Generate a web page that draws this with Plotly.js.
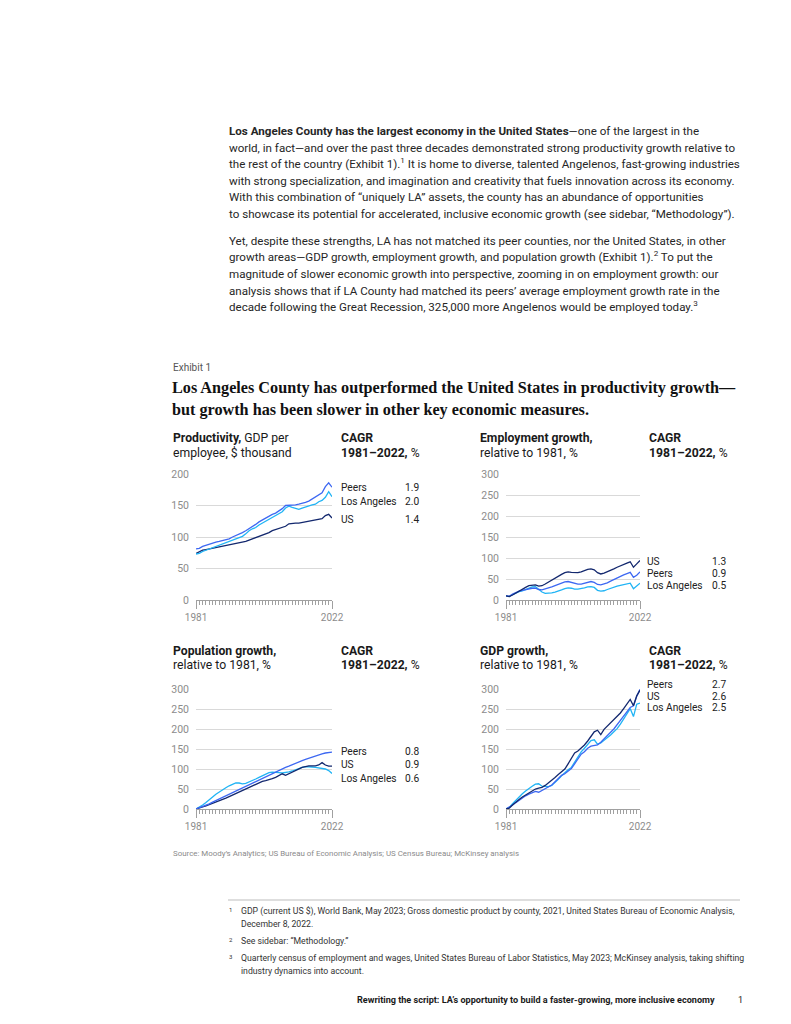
<!DOCTYPE html>
<html><head><meta charset="utf-8">
<script src="https://cdn.plot.ly/plotly-3.0.1.min.js"></script>
<style>html,body{margin:0;padding:0;background:#fff}#chart{width:791px;height:1024px}</style>
</head><body><div id="chart"></div>
<script>
// ---------- DATA ----------
const years = [1981,1982,1983,1984,1985,1986,1987,1988,1989,1990,1991,1992,1993,1994,1995,1996,1997,1998,1999,2000,2001,2002,2003,2004,2005,2006,2007,2008,2009,2010,2011,2012,2013,2014,2015,2016,2017,2018,2019,2020,2021,2022];

// Productivity, GDP per employee, $ thousand
const prodPeers = [81,82,85,87,89,91,92,93,94,96, 97,100,102,104,107,110,113,117,120,124, 127,131,133,136,138,141,145,150,150,150, 151,152,153,155,157,160,163,166,170,180, 186,179];
const prodLA    = [73,74,77,79,81,83,85,86,88,90, 93,95,97,99,101,105,110,113,115,119, 122,125,128,131,134,137,140,146,149,147, 145,144,146,148,150,151,152,156,158,163, 172,164];
const prodUS    = [74,77,79,80,81,83,84,85,85,86, 87,89,90,91,92,93,95,97,99,100, 102,104,107,110,112,114,116,117,121,122, 122,122,123,123,124,125,126,128,129,134, 136,130];

// Employment growth, relative to 1981, %
const empUS    = [10,8,12,17,21,25,30,34,35,36, 33,34,38,43,47,52,57,61,65,67, 66,65,65,67,70,73,74,72,65,62, 64,67,70,74,78,82,85,88,91,78, 86,94];
const empPeers = [10,9,14,18,21,23,25,27,28,28, 25,24,26,28,31,34,37,40,43,44, 42,39,38,38,40,43,44,42,37,36, 38,41,45,49,53,57,60,63,66,54, 59,67];
const empLA    = [10,8,13,17,20,22,25,28,31,32, 25,19,16,16,17,19,21,24,27,29, 28,26,26,27,29,31,32,30,23,21, 22,25,28,30,33,35,37,38,40,27, 33,40];

// Population growth, relative to 1981, %
const popPeers = [0,3,6,9,13,17,21,25,29,33, 37,41,45,48,52,56,60,64,68,72, 76,80,84,88,92,96,100,104,107,111, 114,118,121,124,127,130,133,136,138,140, 141,142];
const popUS    = [0,2,5,8,11,14,17,20,23,27, 31,35,39,43,47,51,55,59,63,67, 69,71,73,76,79,83,88,84,88,93, 97,101,104,106,108,108,108,110,116,110, 107,107];
const popLA    = [0,4,10,16,22,30,37,43,48,53, 58,62,65,65,63,64,67,71,75,79, 83,87,91,92,92,91,90,91,93,95, 98,102,104,106,106,105,104,103,102,100, 96,89];

// GDP growth, relative to 1981, %
const gdpPeers = [0,4,10,16,22,28,33,37,41,44, 42,46,51,55,60,68,76,84,88,95, 101,113,125,137,143,152,157,159,160,167, 176,185,192,200,211,222,234,246,254,258, 282,299];
const gdpUS    = [0,2,10,18,24,30,35,40,45,50, 52,54,59,65,72,79,86,92,100,113, 127,140,145,152,160,170,181,193,197,186, 199,207,214,222,231,240,251,262,274,258, 283,297];
const gdpLA    = [0,4,13,22,30,38,45,52,57,62, 63,57,56,56,59,66,74,83,91,98, 104,117,130,143,152,163,171,173,162,165, 171,178,185,193,201,212,224,237,251,231, 262,265];

// Legend labels and CAGR 1981–2022, %
const prodLabels = ['Peers','Los Angeles','US'];      const prodCagr = ['1.9','2.0','1.4'];
const empLabels  = ['US','Peers','Los Angeles'];      const empCagr  = ['1.3','0.9','0.5'];
const popLabels  = ['Peers','US','Los Angeles'];      const popCagr  = ['0.8','0.9','0.6'];
const gdpLabels  = ['Peers','US','Los Angeles'];      const gdpCagr  = ['2.7','2.6','2.5'];

// ---------- STYLE ----------
const W = 791, H = 1024;
const px = x => x / W, py = y => 1 - y / H;
const SANS = 'Roboto, "Liberation Sans", Arial, sans-serif';
const SERIF = '"Liberation Serif", "Times New Roman", serif';
const C_US = '#13286e', C_PEERS = '#3d68f2', C_LA = '#20b4f5';
const AX = '#a0a0a0', TICKC = '#8c8c8c';

const annotations = [];
function txt(x, y, text, o = {}) {
  const anc = o.anchor || 'left';
  annotations.push({xref:'paper', yref:'paper', x:px(anc === 'left' ? x - 1.5 : x + 1.5), y:py(y), text:text, showarrow:false,
    xanchor:anc, yanchor:'middle', align:anc,
    font:{family:o.family || SANS, size:o.size || 11, color:o.color || '#222'}});
}

// ---------- BODY TEXT ----------
const bodyX = 228, bs = 11.6, bc = '#262626';
const p1 = [
 '<b>Los Angeles County has the largest economy in the United States</b>—one of the largest in the',
 'world, in fact—and over the past three decades demonstrated strong productivity growth relative to',
 'the rest of the country (Exhibit 1).<sup>1</sup> It is home to diverse, talented Angelenos, fast-growing industries',
 'with strong specialization, and imagination and creativity that fuels innovation across its economy.',
 'With this combination of “uniquely LA” assets, the county has an abundance of opportunities',
 'to showcase its potential for accelerated, inclusive economic growth (see sidebar, “Methodology”).'];
const p1y = [131,147.5,162.5,180.5,197,213.5];
p1.forEach((t,i)=>txt(bodyX, p1y[i], t, {size:bs, color:bc}));
const p2 = [
 'Yet, despite these strengths, LA has not matched its peer counties, nor the United States, in other',
 'growth areas—GDP growth, employment growth, and population growth (Exhibit 1).<sup>2</sup> To put the',
 'magnitude of slower economic growth into perspective, zooming in on employment growth: our',
 'analysis shows that if LA County had matched its peers’ average employment growth rate in the',
 'decade following the Great Recession, 325,000 more Angelenos would be employed today.<sup>3</sup>'];
const p2y = [241,256,274,290.5,305.5];
p2.forEach((t,i)=>txt(bodyX, p2y[i], t, {size:bs, color:bc}));

txt(172, 367, 'Exhibit 1', {size:10, color:'#555'});
txt(171, 388, '<b>Los Angeles County has outperformed the United States in productivity growth—</b>', {family:SERIF, size:16.2, color:'#111'});
txt(171, 410, '<b>but growth has been slower in other key economic measures.</b>', {family:SERIF, size:16.2, color:'#111'});

// ---------- CHART HEADERS ----------
const hs = 12.2, hc = '#1a1a1a';
function header(x, xc, y1, y2, l1, l2) {
  txt(x, y1, l1, {size:hs, color:hc}); txt(x, y2, l2, {size:hs, color:hc});
  txt(xc, y1, '<b>CAGR</b>', {size:hs, color:hc}); txt(xc, y2, '<b>1981–2022,</b> %', {size:hs, color:hc});
}
header(172, 340, 438, 452.5, '<b>Productivity,</b> GDP per', 'employee, $ thousand');
header(479, 648, 438, 452.5, '<b>Employment growth,</b>', 'relative to 1981, %');
header(172, 340, 650.5, 665, '<b>Population growth,</b>', 'relative to 1981, %');
header(479, 648, 650.5, 665, '<b>GDP growth,</b>', 'relative to 1981, %');

// ---------- LEGEND LABELS ----------
function legend(x, xr, ys, labels, vals) {
  labels.forEach((l,i)=>{ txt(x, ys[i], l, {size:10.2, color:'#222'}); txt(xr, ys[i], vals[i], {size:10.2, color:'#222', anchor:'right'}); });
}
legend(340, 420, [487.5,501.5,519.5], prodLabels, prodCagr);
legend(646, 726.5, [561.5,573,585], empLabels, empCagr);
legend(340, 420, [751.5,764.5,778], popLabels, popCagr);
legend(646, 726.5, [684.5,696,707], gdpLabels, gdpCagr);

txt(172, 853, 'Source: Moody’s Analytics; US Bureau of Economic Analysis; US Census Bureau; McKinsey analysis', {size:7.9, color:'#8a8a8a'});

// ---------- FOOTNOTES ----------
const fs = 8.7, fc = '#333';
txt(228.5, 909.5, '1', {size:6, color:fc});
txt(240, 911, 'GDP (current US $), World Bank, May 2023; Gross domestic product by county, 2021, United States Bureau of Economic Analysis,', {size:fs, color:fc});
txt(240, 924, 'December 8, 2022.', {size:fs, color:fc});
txt(228.5, 939.5, '2', {size:6, color:fc});
txt(240, 941, 'See sidebar: “Methodology.”', {size:fs, color:fc});
txt(228.5, 956.5, '3', {size:6, color:fc});
txt(240, 958, 'Quarterly census of employment and wages, United States Bureau of Labor Statistics, May 2023; McKinsey analysis, taking shifting', {size:fs, color:fc});
txt(240, 971, 'industry dynamics into account.', {size:fs, color:fc});
txt(715, 1000, '<b>Rewriting the script: LA’s opportunity to build a faster-growing, more inclusive economy</b>', {size:9.1, color:'#1a1a1a', anchor:'right'});
txt(737, 1000, '1', {size:9, color:'#1a1a1a'});

// ---------- AXES ----------
function xa(x0, x1, anchor) {
  return {domain:[px(x0), px(x1)], anchor:anchor, range:[1981, 2022],
    tickmode:'array', tickvals:[1981, 2022], ticktext:['1981','2022'],
    ticks:'outside', ticklen:8, tickwidth:1, tickcolor:AX,
    showline:true, linecolor:AX, linewidth:1, showgrid:false, zeroline:false,
    tickfont:{family:SANS, size:10, color:TICKC},
    minor:{ticks:'outside', ticklen:4, tickwidth:1, tickcolor:AX, tickmode:'linear', tick0:1981, dtick:1, showgrid:false},
    fixedrange:true};
}
function ya(y0, y1, max, anchor) {
  return {domain:[py(y0), py(y1)], anchor:anchor, range:[0, max], tickmode:'linear', tick0:0, dtick:50,
    showgrid:true, gridcolor:'#d9d9d9', gridwidth:1, zeroline:false, showline:false, ticks:'',
    tickfont:{family:SANS, size:10.5, color:TICKC}, ticklabelstandoff:6, fixedrange:true};
}

function line(y, color, xa, ya) {
  return {x:years, y:y, type:'scatter', mode:'lines', line:{color:color, width:1.3}, xaxis:xa, yaxis:ya, hoverinfo:'skip'};
}
const data = [
  line(prodUS, C_US, 'x', 'y'), line(prodLA, C_LA, 'x', 'y'), line(prodPeers, C_PEERS, 'x', 'y'),
  line(empLA, C_LA, 'x2', 'y2'), line(empPeers, C_PEERS, 'x2', 'y2'), line(empUS, C_US, 'x2', 'y2'),
  line(popLA, C_LA, 'x3', 'y3'), line(popUS, C_US, 'x3', 'y3'), line(popPeers, C_PEERS, 'x3', 'y3'),
  line(gdpLA, C_LA, 'x4', 'y4'), line(gdpPeers, C_PEERS, 'x4', 'y4'), line(gdpUS, C_US, 'x4', 'y4')
];

const layout = {
  width:W, height:H, margin:{l:0, r:0, t:0, b:0}, showlegend:false,
  paper_bgcolor:'#fff', plot_bgcolor:'#fff', font:{family:SANS},
  xaxis:xa(196, 332, 'y'), yaxis:ya(600, 474, 200, 'x'),
  xaxis2:xa(506, 640, 'y2'), yaxis2:ya(600, 474, 300, 'x2'),
  xaxis3:xa(196, 332, 'y3'), yaxis3:ya(809, 689, 300, 'x3'),
  xaxis4:xa(506, 640, 'y4'), yaxis4:ya(809, 689, 300, 'x4'),
  annotations:annotations,
  shapes:[{type:'line', xref:'paper', yref:'paper', x0:px(228), x1:px(740), y0:py(900), y1:py(900), line:{color:'#bdbdbd', width:1}}]
};
Plotly.newPlot('chart', data, layout, {staticPlot:true, displayModeBar:false});
</script></body></html>
